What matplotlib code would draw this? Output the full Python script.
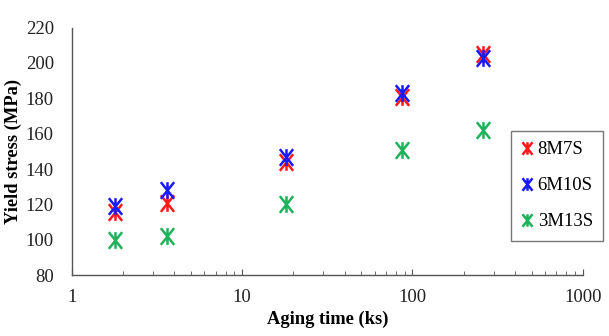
import matplotlib
matplotlib.use("Agg")
import matplotlib.pyplot as plt
from matplotlib.path import Path

plt.rcParams['font.family'] = ['Liberation Serif', 'DejaVu Serif']

aging_time = [1.8, 3.6, 18, 86.4, 259.2]
s_8M7S = [116, 121, 144, 181, 205]
s_6M10S = [119, 128, 147, 183, 203]
s_3M13S = [100, 102, 120.5, 150.5, 162]
series_labels = ['8M7S', '6M10S', '3M13S']
colors = ['#ff1a1a', '#1a1aff', '#1fb25a']

verts = [(0, -1), (0, 1), (-0.8, -1), (0.8, 1), (-0.8, 1), (0.8, -1)]
codes = [Path.MOVETO, Path.LINETO] * 3
star = Path(verts, codes)

fig = plt.figure(figsize=(6.09, 3.36), dpi=100)
ax = fig.add_axes([0.118, 0.181, 0.839, 0.737])

for vals, lab, c in zip([s_8M7S, s_6M10S, s_3M13S], series_labels, colors):
    ax.plot(aging_time, vals, linestyle='none', marker=star, markersize=12,
            markeredgewidth=1.8, color=c, label=lab)

ax.set_xscale('log')
ax.set_xlim(1, 1000)
ax.set_ylim(80, 220)
ax.set_yticks(range(80, 221, 20))
ax.set_xticks([1, 10, 100, 1000])
ax.set_xticklabels(['1', '10', '100', '1000'])
for s in ['top', 'right']:
    ax.spines[s].set_visible(False)
for s in ['left', 'bottom']:
    ax.spines[s].set_color('#555555')
    ax.spines[s].set_linewidth(1.0)
ax.tick_params(axis='both', which='both', direction='in', colors='#555555',
               labelcolor='#222222', labelsize=13.5)
ax.tick_params(axis='x', which='major', length=4, pad=10)
ax.tick_params(axis='x', which='minor', length=3)
ax.tick_params(axis='y', which='major', length=0, pad=13)

ax.set_xlabel('Aging time (ks)', fontsize=13.3, fontweight='bold', labelpad=3)
ax.set_ylabel('Yield stress (MPa)', fontsize=13.3, fontweight='bold', labelpad=3)

leg = fig.legend(loc='upper left', bbox_to_anchor=(0.839, 0.610), frameon=True,
                 fancybox=False, edgecolor='#555555', fontsize=13.5,
                 labelspacing=1.0, handlelength=0.6, handletextpad=0.27,
                 borderpad=0.55, borderaxespad=0, markerscale=0.75)
leg.get_frame().set_linewidth(1.0)

fig.savefig('out.png', dpi=100)
